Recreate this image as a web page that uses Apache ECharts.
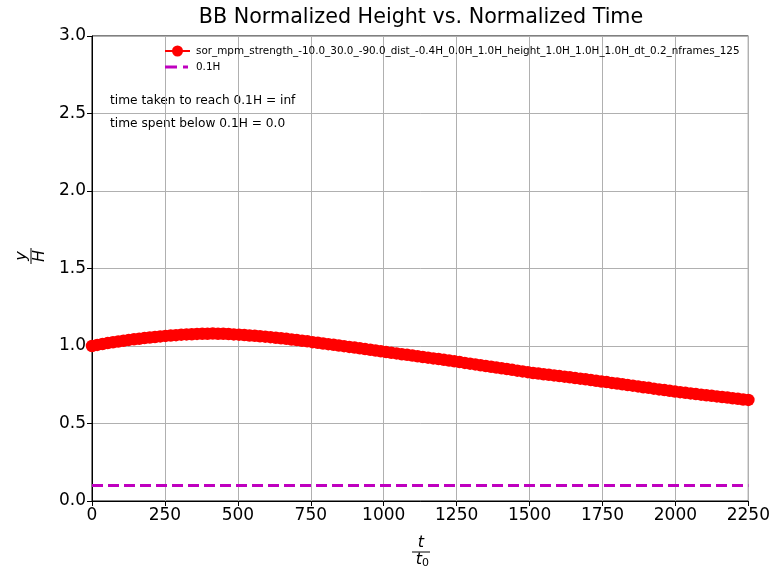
<!DOCTYPE html>
<html>
<head>
<meta charset="utf-8">
<script src="https://cdn.jsdelivr.net/npm/echarts@6/dist/echarts.min.js"></script>
<style>html,body{margin:0;padding:0;background:#fff;}#c{width:773px;height:566px;}</style>
</head>
<body>
<div id="c"></div>
<script>
const seriesName = 'sor_mpm_strength_-10.0_30.0_-90.0_dist_-0.4H_0.0H_1.0H_height_1.0H_1.0H_1.0H_dt_0.2_nframes_125';
const thresholdName = '0.1H';
const threshold = 0.1;
const xTicks = [0, 250, 500, 750, 1000, 1250, 1500, 1750, 2000, 2250];
const yTicks = [0.0, 0.5, 1.0, 1.5, 2.0, 2.5, 3.0];
const times = [0,18,36,54,72,90,108,126,144,162,180,198,216,234,252,270,288,306,324,342,360,378,396,414,432,450,468,486,504,522,540,558,576,594,612,630,648,666,684,702,720,738,756,774,792,810,828,846,864,882,900,918,936,954,972,990,1008,1026,1044,1062,1080,1098,1116,1134,1152,1170,1188,1206,1224,1242,1260,1278,1296,1314,1332,1350,1368,1386,1404,1422,1440,1458,1476,1494,1512,1530,1548,1566,1584,1602,1620,1638,1656,1674,1692,1710,1728,1746,1764,1782,1800,1818,1836,1854,1872,1890,1908,1926,1944,1962,1980,1998,2016,2034,2052,2070,2088,2106,2124,2142,2160,2178,2196,2214,2232,2250];
const heights = [1.000,1.007,1.013,1.019,1.024,1.029,1.034,1.039,1.043,1.047,1.051,1.055,1.058,1.062,1.065,1.068,1.070,1.073,1.075,1.076,1.078,1.079,1.079,1.080,1.079,1.079,1.077,1.075,1.073,1.071,1.068,1.066,1.063,1.060,1.057,1.053,1.050,1.046,1.042,1.038,1.034,1.030,1.025,1.021,1.016,1.012,1.008,1.003,0.999,0.994,0.990,0.985,0.980,0.976,0.971,0.966,0.961,0.956,0.952,0.947,0.943,0.938,0.934,0.929,0.925,0.920,0.916,0.911,0.906,0.901,0.896,0.891,0.886,0.881,0.876,0.871,0.866,0.861,0.856,0.851,0.846,0.841,0.836,0.831,0.826,0.822,0.818,0.814,0.810,0.806,0.802,0.798,0.793,0.789,0.785,0.780,0.776,0.771,0.767,0.762,0.758,0.753,0.748,0.744,0.739,0.734,0.730,0.725,0.720,0.716,0.711,0.706,0.702,0.698,0.694,0.690,0.686,0.682,0.679,0.675,0.671,0.667,0.663,0.659,0.655,0.652];
const annotations = ['time taken to reach 0.1H = inf', 'time spent below 0.1H = 0.0'];
const titleText = 'BB Normalized Height vs. Normalized Time';

const FONT = 'DejaVu Sans';
const RED = '#ff0000', MAG = '#bf00bf';
const chart = echarts.init(document.getElementById('c'), null, {renderer: 'canvas'});
const mainData = times.map((t, i) => [t, heights[i]]);
const threshData = [[xTicks[0], threshold], [xTicks[xTicks.length - 1], threshold]];

chart.setOption({
  animation: false,
  backgroundColor: '#fff',
  textStyle: {fontFamily: FONT},
  grid: {left: 92, right: 23, top: 36, bottom: 65, show: true, borderColor: '#000', borderWidth: 1, backgroundColor: 'transparent'},
  xAxis: {
    type: 'value', min: xTicks[0], max: xTicks[xTicks.length - 1], interval: 250,
    axisLine: {show: true, lineStyle: {color: '#000', width: 1}},
    axisTick: {show: true, inside: false, length: 5, lineStyle: {color: '#000'}},
    axisLabel: {fontFamily: FONT, fontSize: 17, color: '#000', margin: 6, formatter: v => String(v)},
    splitLine: {show: true, lineStyle: {color: '#b0b0b0', width: 1}}
  },
  yAxis: {
    type: 'value', min: yTicks[0], max: yTicks[yTicks.length - 1], interval: 0.5,
    axisLine: {show: true, lineStyle: {color: '#000', width: 1}},
    axisTick: {show: true, inside: false, length: 5, lineStyle: {color: '#000'}},
    axisLabel: {fontFamily: FONT, fontSize: 17, color: '#000', margin: 6, formatter: v => v.toFixed(1)},
    splitLine: {show: true, lineStyle: {color: '#b0b0b0', width: 1}}
  },
  series: [
    {
      name: seriesName, type: 'line', data: mainData,
      symbol: 'circle', symbolSize: 12.5, showSymbol: true,
      itemStyle: {color: RED, borderWidth: 0},
      lineStyle: {color: RED, width: 3},
      z: 3
    },
    {
      name: thresholdName, type: 'line', data: threshData,
      symbol: 'none', showSymbol: false,
      itemStyle: {color: MAG},
      lineStyle: {color: MAG, width: 3, type: [11, 5]},
      z: 2
    }
  ],
  graphic: [
    {type: 'text', style: {text: titleText, x: 421, y: 18, align: 'center', verticalAlign: 'middle', font: '20.7px "DejaVu Sans"', fill: '#000'}},
    {type: 'line', shape: {x1: 165, y1: 51, x2: 190, y2: 51}, style: {stroke: RED, lineWidth: 2}, z: 11},
    {type: 'circle', shape: {cx: 177.5, cy: 51, r: 5.5}, style: {fill: RED}, z: 11},
    {type: 'text', style: {text: seriesName, x: 196, y: 51, verticalAlign: 'middle', font: '10.4px "DejaVu Sans"', fill: '#000'}, z: 11},
    {type: 'line', shape: {x1: 165, y1: 67, x2: 177, y2: 67}, style: {stroke: MAG, lineWidth: 3}, z: 11},
    {type: 'line', shape: {x1: 183, y1: 67, x2: 188, y2: 67}, style: {stroke: MAG, lineWidth: 3}, z: 11},
    {type: 'text', style: {text: thresholdName, x: 196, y: 67, verticalAlign: 'middle', font: '10.4px "DejaVu Sans"', fill: '#000'}, z: 11},
    {type: 'text', style: {text: annotations[0], x: 110, y: 101, verticalAlign: 'middle', font: '12.2px "DejaVu Sans"', fill: '#000'}},
    {type: 'text', style: {text: annotations[1], x: 110, y: 124, verticalAlign: 'middle', font: '12.2px "DejaVu Sans"', fill: '#000'}},
    {type: 'group', x: 31, y: 256, rotation: Math.PI / 2, children: [
      {type: 'text', style: {text: 'y', x: 0, y: -9, align: 'center', verticalAlign: 'middle', font: 'italic 16px "DejaVu Sans"', fill: '#000'}},
      {type: 'line', shape: {x1: -8, y1: 0, x2: 8, y2: 0}, style: {stroke: '#000', lineWidth: 1}},
      {type: 'text', style: {text: 'H', x: 0, y: 9, align: 'center', verticalAlign: 'middle', font: 'italic 16px "DejaVu Sans"', fill: '#000'}}
    ]},
    {type: 'group', x: 421, y: 552, children: [
      {type: 'text', style: {text: 't', x: 0, y: -9, align: 'center', verticalAlign: 'middle', font: 'italic 16px "DejaVu Sans"', fill: '#000'}},
      {type: 'line', shape: {x1: -9, y1: 0, x2: 9, y2: 0}, style: {stroke: '#000', lineWidth: 1}},
      {type: 'text', style: {text: 't', x: -2, y: 8, align: 'center', verticalAlign: 'middle', font: 'italic 16px "DejaVu Sans"', fill: '#000'}},
      {type: 'text', style: {text: '0', x: 4.5, y: 11, align: 'center', verticalAlign: 'middle', font: '11px "DejaVu Sans"', fill: '#000'}}
    ]}
  ]
});
</script>
</body>
</html>
